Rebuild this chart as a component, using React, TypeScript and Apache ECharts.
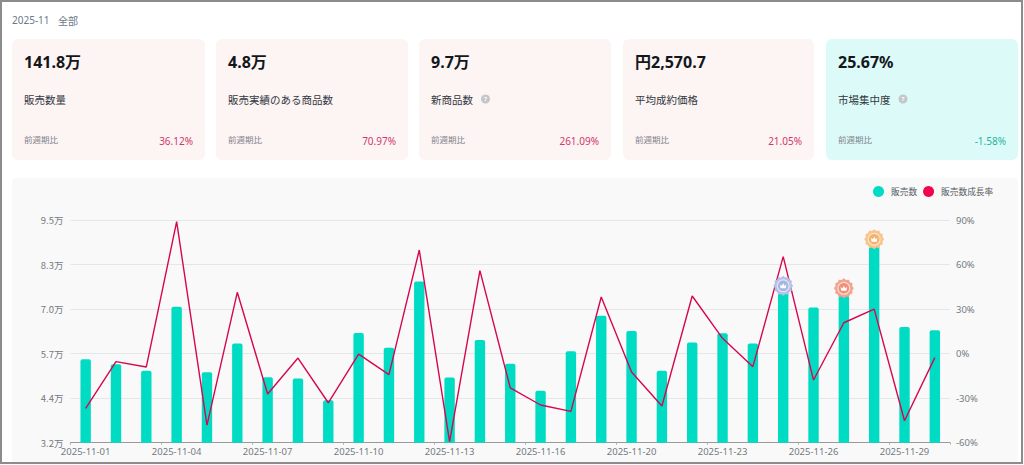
import React, { useEffect, useRef } from "react";
import * as echarts from "echarts";

const dates = ["2025-11-01","2025-11-02","2025-11-03","2025-11-04","2025-11-05","2025-11-06","2025-11-07","2025-11-08","2025-11-09","2025-11-10","2025-11-11","2025-11-12","2025-11-13","2025-11-14","2025-11-15","2025-11-16","2025-11-17","2025-11-18","2025-11-20","2025-11-21","2025-11-22","2025-11-23","2025-11-24","2025-11-25","2025-11-26","2025-11-27","2025-11-28","2025-11-29","2025-11-30"];
const sales = [5.55,5.41,5.22,7.05,5.18,6.0,5.04,5.0,4.38,6.3,5.88,7.77,5.03,6.1,5.42,4.65,5.78,6.79,6.36,5.22,6.03,6.29,6.0,7.53,7.03,7.46,8.86,6.47,6.38];
const growth = [-36.9,-5.4,-9,88.9,-48.1,41.3,-27.2,-3,-33.1,-0.3,-14.2,69.8,-59.3,55.9,-23,-34.6,-38.9,38.1,-12.4,-35.3,38.8,10.3,-8.8,65.3,-17.8,20.8,30,-45.2,-2.7];
const leftMin = 3.172;
const leftMax = 9.522;
const rightTicks = { min: -60, max: 90, interval: 30 };
const cards = [
  { x: 12, w: 193, big: "141.8万", label: "販売数量", pct: "36.12%", up: true, help: false },
  { x: 216, w: 192, big: "4.8万", label: "販売実績のある商品数", pct: "70.97%", up: true, help: false },
  { x: 419, w: 192, big: "9.7万", label: "新商品数", pct: "261.09%", up: true, help: true },
  { x: 623, w: 191, big: "円2,570.7", label: "平均成約価格", pct: "21.05%", up: true, help: false },
  { x: 826, w: 192, big: "25.67%", label: "市場集中度", pct: "-1.58%", up: false, help: true },
];
const badges = [
  { idx: 23, ring: "#b4c2ea", inner: "#a3b4e6" },
  { idx: 25, ring: "#f2a48e", inner: "#ef9078" },
  { idx: 26, ring: "#f8c48c", inner: "#f6b26a" },
];

const CJK = '"Noto Sans CJK JP", "Noto Sans", sans-serif';
const LATIN = '"Noto Sans", "Noto Sans CJK JP", sans-serif';

function gearPath() {
  const n = 12;
  const pts: string[] = [];
  for (let i = 0; i < n * 2; i++) {
    const a = (i / (n * 2)) * Math.PI * 2;
    const r = i % 2 === 0 ? 50 : 43;
    pts.push(`${(50 + r * Math.cos(a)).toFixed(2)} ${(50 + r * Math.sin(a)).toFixed(2)}`);
  }
  return "path://M" + pts.join("L") + "Z";
}
const crown = "path://M10 80L0 15L28 42L50 0L72 42L100 15L90 80Z";

export default function App() {
  const ref = useRef<HTMLDivElement>(null);
  useEffect(() => {
    document.body.style.margin = "0";
    document.body.style.background = "#fff";
    const chart = echarts.init(ref.current!, undefined, { renderer: "svg" });
    const graphics: any[] = [
      { type: "rect", z: -10, silent: true, shape: { x: 12, y: 178, width: 1006, height: 285, r: 4 }, style: { fill: "#f9f9fa" } },
      { type: "text", x: 12, y: 20, style: { text: "2025-11", font: `10px ${LATIN}`, fill: "#6c7886", verticalAlign: "middle" } },
      { type: "text", x: 58, y: 20, style: { text: "全部", font: `10px ${CJK}`, fill: "#6c7886", verticalAlign: "middle" } },
    ];
    cards.forEach((c) => {
      const L = c.x + 12;
      graphics.push(
        { type: "rect", z: -10, silent: true, shape: { x: c.x, y: 39, width: c.w, height: 121, r: 6 }, style: { fill: c.up ? "#fdf4f4" : "#dcfbf8" } },
        { type: "text", x: L, y: 62, style: { text: c.big, font: `bold 16px ${LATIN}`, fill: "#14161a", verticalAlign: "middle" } },
        { type: "text", x: L, y: 99, style: { text: c.label, font: `10.5px ${CJK}`, fill: "#33383f", verticalAlign: "middle" } },
        { type: "text", x: L, y: 139, style: { text: "前週期比", font: `8.5px ${CJK}`, fill: "#7d828a", verticalAlign: "middle" } },
        { type: "text", x: c.x + c.w - 12, y: 141, style: { text: c.pct, font: `10px ${LATIN}`, fill: c.up ? "#d2366c" : "#1fb5a0", align: "right", verticalAlign: "middle" } },
      );
      if (c.help) {
        const hx = L + c.label.length * 10.5 + 12.5;
        graphics.push(
          { type: "circle", shape: { cx: hx, cy: 99, r: 4.5 }, style: { fill: "#c3c7c9" } },
          { type: "text", x: hx, y: 99, style: { text: "?", font: `bold 6px ${LATIN}`, fill: "#fff", align: "center", verticalAlign: "middle" } },
        );
      }
    });
    graphics.push({ type: "rect", z: 100, silent: true, shape: { x: 1, y: 1, width: 1021, height: 462 }, style: { fill: "none", stroke: "#8c8c8c", lineWidth: 2 } });

    const marks: any[] = [];
    badges.forEach((b) => {
      const coord = [dates[b.idx], sales[b.idx]];
      marks.push(
        { coord, symbol: gearPath(), symbolSize: 20, symbolOffset: [0, -4], itemStyle: { color: b.ring } },
        { coord, symbol: "circle", symbolSize: 13, symbolOffset: [0, -4], itemStyle: { color: "#fbeee6", opacity: 0.75 } },
        { coord, symbol: "circle", symbolSize: 10.5, symbolOffset: [0, -4], itemStyle: { color: b.inner } },
        { coord, symbol: crown, symbolSize: [6.5, 5], symbolOffset: [0, -4], itemStyle: { color: "#fff" } },
      );
    });

    chart.setOption({
      animation: false,
      backgroundColor: "transparent",
      graphic: { elements: graphics },
      grid: { left: 70.5, right: 74, top: 220, height: 222.7, containLabel: false },
      legend: {
        left: 868, top: 181, itemWidth: 11, itemHeight: 11, itemGap: 6,
        textStyle: { fontFamily: CJK, fontSize: 8.7, color: "#555a62", padding: [0, 0, 0, 2] },
        data: [{ name: "販売数", icon: "circle" }, { name: "販売数成長率", icon: "circle" }],
      },
      xAxis: {
        type: "category", data: dates,
        axisLine: { onZero: false, lineStyle: { color: "#9a9a9a", width: 1 } },
        axisTick: { show: true, interval: 2, length: 2, lineStyle: { color: "#b0b0b0" } },
        axisLabel: { interval: 2, margin: 4, fontSize: 9.5, fontFamily: LATIN, color: "#75797e" },
      },
      yAxis: [
        {
          type: "value", position: "right", ...rightTicks,
          axisLine: { show: false }, axisTick: { show: false },
          axisLabel: { margin: 6, fontSize: 9.5, fontFamily: LATIN, color: "#75797e", formatter: (v: number) => `${v}%` },
          splitLine: { show: true, lineStyle: { color: "#e4e6ea", width: 1 } },
        },
        {
          type: "value", position: "left", min: leftMin, max: leftMax, alignTicks: true,
          axisLine: { show: false }, axisTick: { show: false },
          axisLabel: { margin: 7, fontSize: 9.5, fontFamily: CJK, color: "#75797e", formatter: (v: number) => `${v.toFixed(1)}万` },
          splitLine: { show: false },
        },
      ],
      series: [
        {
          name: "販売数", type: "bar", yAxisIndex: 1, data: sales, barWidth: 10.4,
          itemStyle: { color: "#00dcc3", borderRadius: [2, 2, 0, 0] },
          markPoint: { silent: true, label: { show: false }, data: marks },
          z: 2,
        },
        {
          name: "販売数成長率", type: "line", yAxisIndex: 0, data: growth, symbol: "none", z: 3,
          lineStyle: { color: "#d6064f", width: 1.4 }, itemStyle: { color: "#f0054f" },
        },
      ],
    });
    return () => chart.dispose();
  }, []);
  return <div ref={ref} style={{ width: 1024, height: 465 }} />;
}
